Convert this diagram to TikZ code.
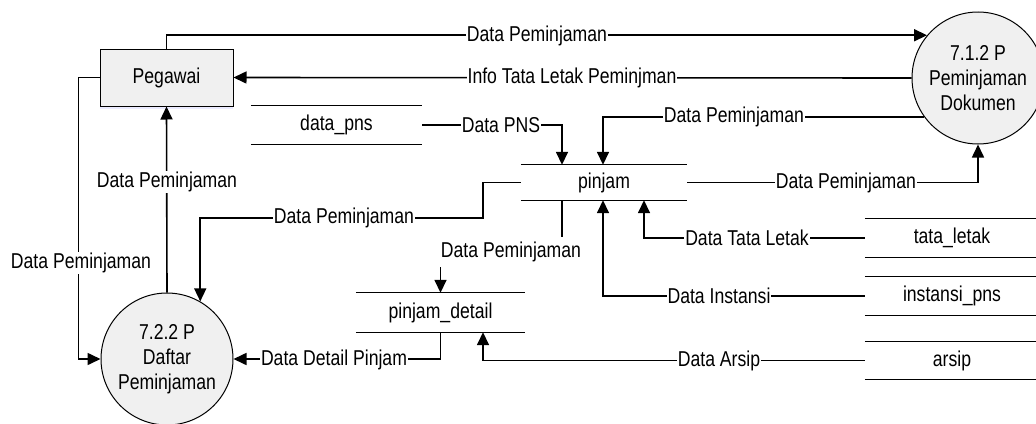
\documentclass[tikz,border=0pt]{standalone}
\usepackage{fontspec}
\setmainfont{Liberation Sans}[FakeStretch=0.82]
\usetikzlibrary{arrows.meta,shadows}
\begin{document}
\begin{tikzpicture}[x=1pt,y=-1pt,
  every node/.style={font=\fontsize{21.5}{25}\selectfont},
  flow/.style={line width=1.6pt,-{Triangle[length=13pt,width=12pt]}},
  lbl/.style={fill=white,inner sep=1pt},
  proc/.style={circle,draw,line width=1pt,fill=black!6,minimum size=132pt,inner sep=0pt,align=center},
  ent/.style={rectangle,draw,line width=1pt,fill=black!6,minimum width=133pt,minimum height=57pt,inner sep=0pt,
    drop shadow={shadow xshift=0pt,shadow yshift=-3pt,opacity=1,fill=blue!8}},
  store/.style={rectangle,inner sep=0pt,minimum height=38pt},
  storeline/.style={line width=1.3pt}]
\useasboundingbox (0,0) rectangle (1036,423);
\clip (0,0) rectangle (1036,423);
\fill[white] (0,0) rectangle (1036,423);
% nodes
\node[ent] (peg) at (166.5,77.5) {Pegawai};
\node[proc] (c1) at (978,78) {7.1.2 P\\Peminjaman\\Dokumen};
\node[proc] (c2) at (167,359) {7.2.2 P\\Daftar\\Peminjaman};
\node[store,minimum width=171pt] (dpns) at (336.5,125) {data\_pns};
\node[store,minimum width=166pt,minimum height=35pt] (pinjam) at (604,182.5) {pinjam};
\node[store,minimum width=169pt,minimum height=39pt] (pdet) at (440.5,312.5) {pinjam\_detail};
\node[store,minimum width=174pt] (tl) at (952,238) {tata\_letak};
\node[store,minimum width=174pt] (ip) at (952,296) {instansi\_pns};
\node[store,minimum width=174pt,minimum height=37pt] (ar) at (952,360.5) {arsip};
\foreach \n in {dpns,pinjam,pdet,tl,ip,ar}
  \draw[storeline] (\n.north west) -- (\n.north east) (\n.south west) -- (\n.south east);
% connectors
\draw[flow] (peg.north) |- (c1.140.5);
\draw[flow] (c1.west) -- (peg.east);
\draw[flow] (dpns.east) -| (562,0 |- pinjam.north);
\draw[flow] (c1.216.2) -| (603,0 |- pinjam.north);
\draw[flow] (pinjam.east) -| (c1.south);
\coordinate (j1) at (483,218);
\draw[flow] (pinjam.west) -| (j1) -| (c2.60);
\draw[flow] (c2.north) -- (peg.south);
\draw[flow] (peg.west) -- ++(-21,0) |- (c2.west);
\coordinate (j2) at (562,252);
\draw[flow] (562,0 |- pinjam.south) -- (j2) -| (pdet.north);
\draw[flow] (pdet.south) |- (c2.east);
\draw[flow] (ar.west) -| (483,0 |- pdet.south);
\draw[flow] (tl.west) -| (644,0 |- pinjam.south);
\draw[flow] (ip.west) -| (603,0 |- pinjam.south);
% labels
\node[lbl] (l1) at (537,36) {Data Peminjaman};
\node[lbl] (l2) at (572,78) {Info Tata Letak Peminjman};
\node[lbl] (l3) at (501,125) {Data PNS};
\node[lbl] (l4) at (734,117) {Data Peminjaman};
\node[lbl] (l5) at (846,182.5) {Data Peminjaman};
\node[lbl] (l6) at (344,218) {Data Peminjaman};
\node[lbl] (l7) at (167,182) {Data Peminjaman};
\node[lbl] (l8) at (81,263) {Data Peminjaman};
\node[lbl,inner ysep=5pt] (l9) at (511,252) {Data Peminjaman};
\node[lbl] (l10) at (334,360) {Data Detail Pinjam};
\node[lbl] (l11) at (719,360.5) {Data Arsip};
\node[lbl] (l12) at (747,238) {Data Tata Letak};
\node[lbl] (l13) at (719,296) {Data Instansi};
\end{tikzpicture}
\end{document}
